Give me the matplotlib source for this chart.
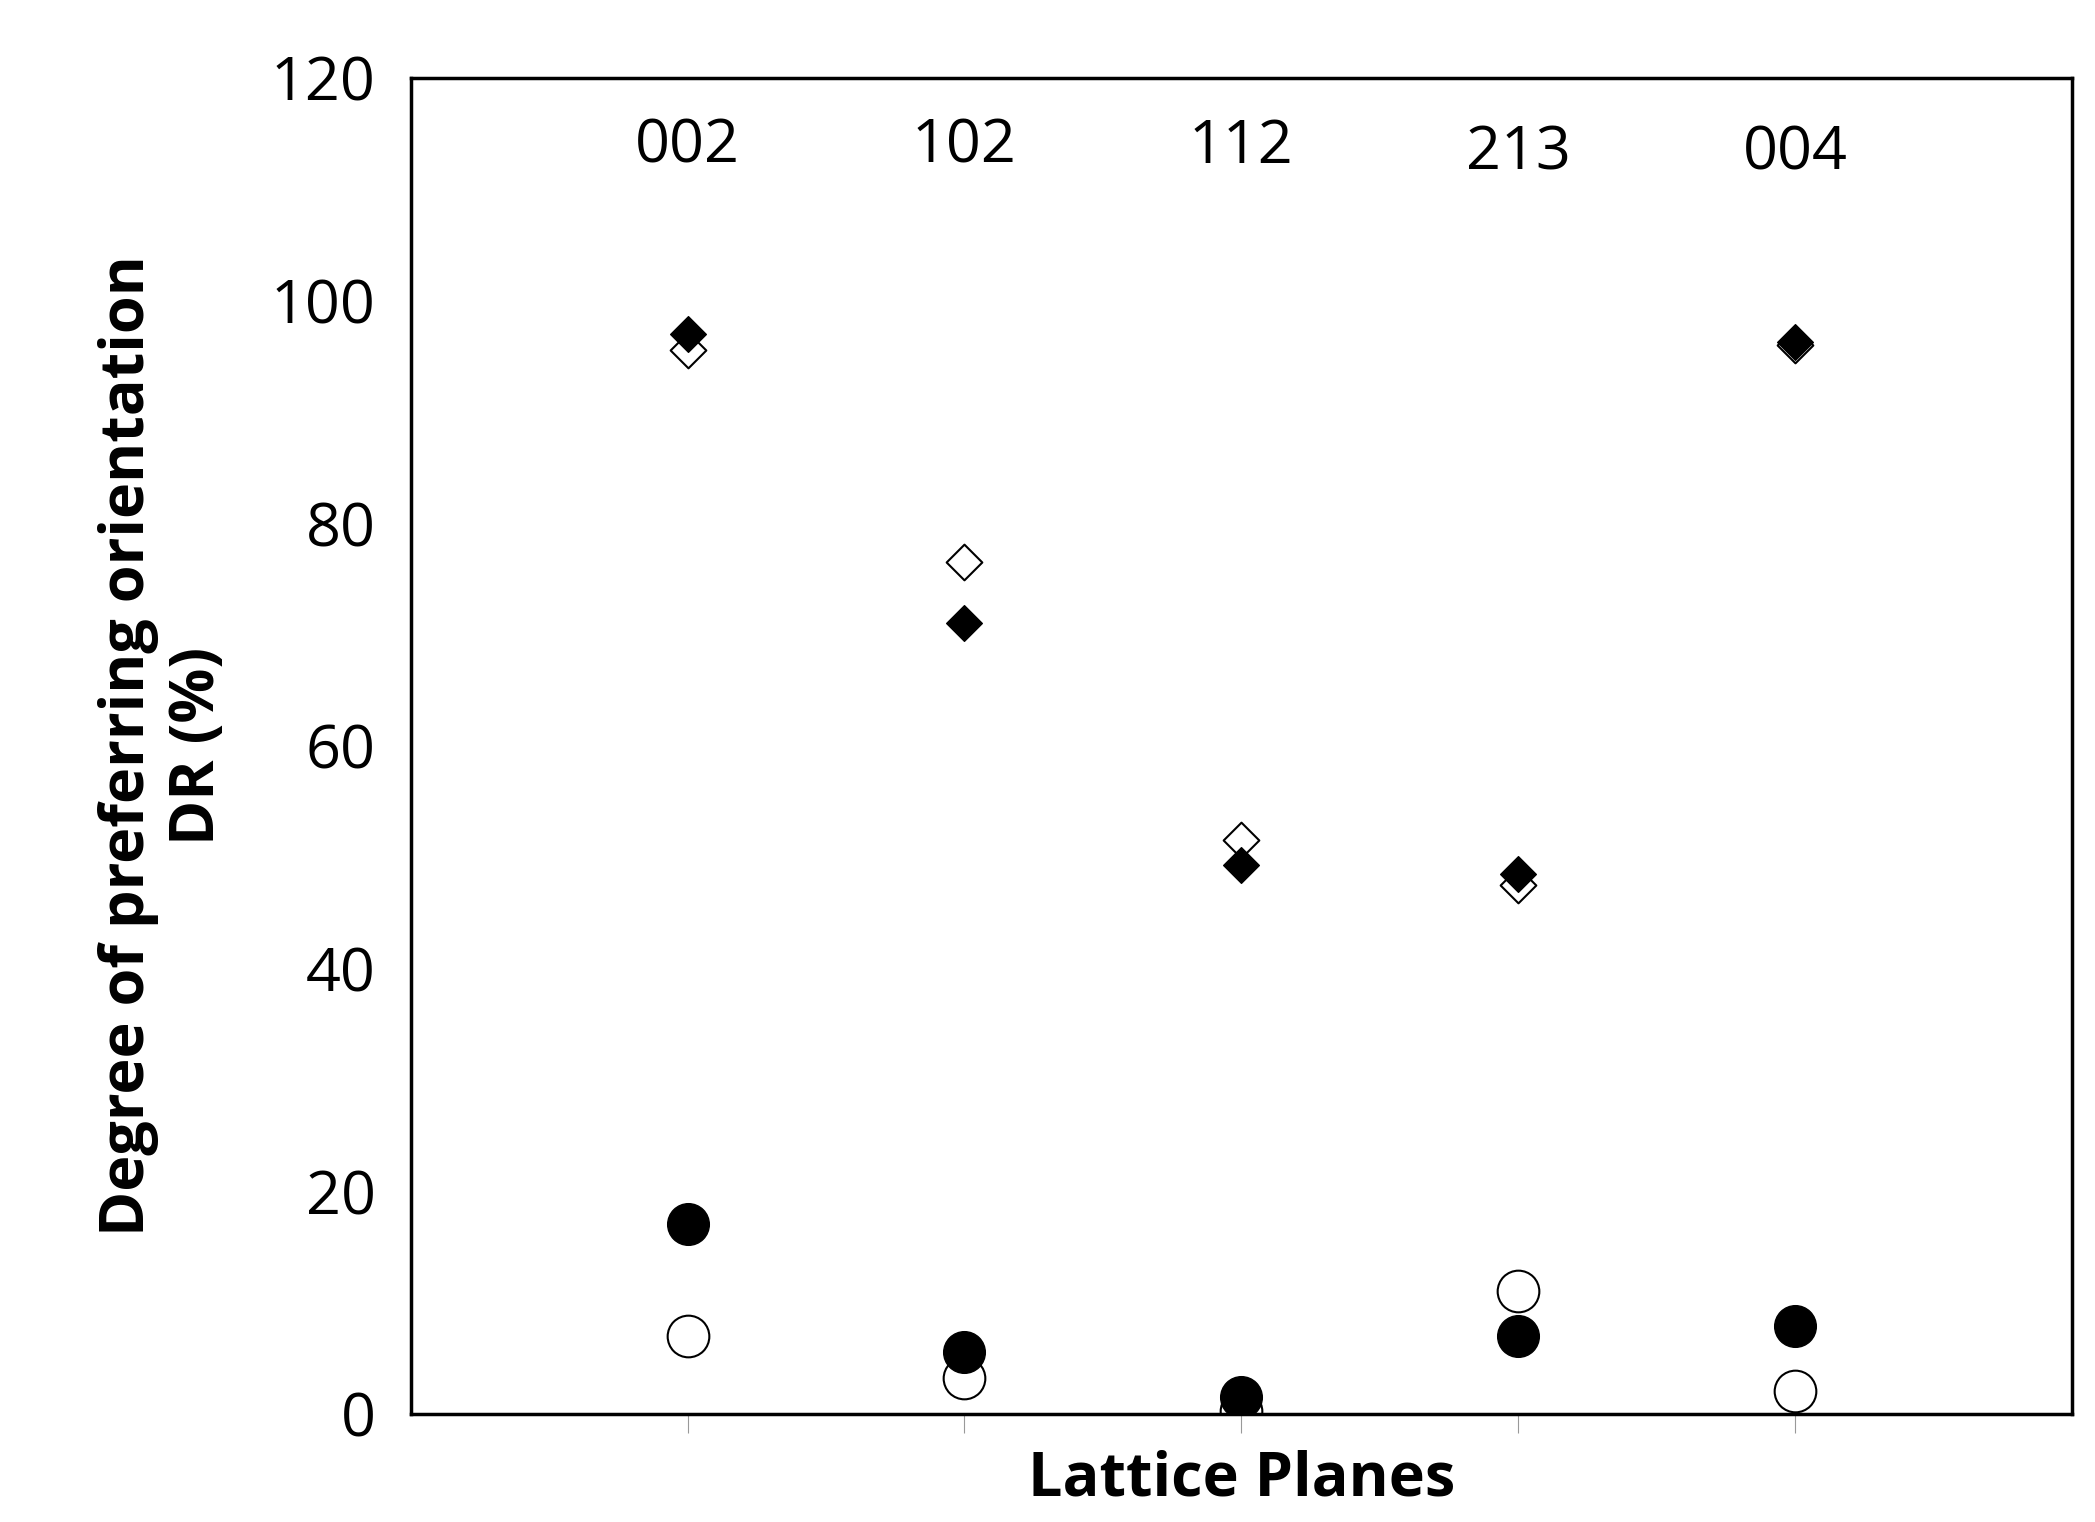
import numpy as np
import matplotlib.pyplot as plt

planes = ['002', '102', '112', '213', '004']
x = np.arange(1, 6)
dia_filled = [97, 71, 49.3, 48.5, 96.3]
dia_open = [95.5, 76.5, 51.5, 47.5, 96.0]
circ_filled = [17.1, 5.6, 1.5, 7.0, 7.9]
circ_open = [7.0, 3.2, 0.3, 11.0, 2.1]
label_y = [113.8, 113.8, 113.8, 113.2, 113.2]

plt.rcParams['font.family'] = ['Open Sans', 'DejaVu Sans']
fig = plt.figure(figsize=(20.95, 15.22), dpi=100)
ax = fig.add_axes([0.196, 0.071, 0.793, 0.878])

ax.scatter(x, dia_open, marker='D', s=330, facecolor='white', edgecolor='black', linewidth=1.5, zorder=2)
ax.scatter(x, dia_filled, marker='D', s=330, color='black', zorder=3)
ax.scatter(x, circ_open, marker='o', s=900, facecolor='white', edgecolor='black', linewidth=1.5, zorder=2)
ax.scatter(x, circ_filled, marker='o', s=900, color='black', zorder=3)

for xi, lab, yi in zip(x, planes, label_y):
    ax.text(xi, yi, lab, ha='center', va='center', fontsize=44)

ax.set_xlim(0, 6)
ax.set_ylim(0, 120)
ax.set_yticks(range(0, 121, 20))
ax.set_xticks(x)
ax.set_xticklabels([])
ax.tick_params(axis='y', length=0, labelsize=44, pad=25)
ax.tick_params(axis='x', direction='out', length=14, color='#999999')
for s in ax.spines.values():
    s.set_linewidth(2.5)
ax.set_xlabel('Lattice Planes', fontsize=44, fontweight='bold', labelpad=8)
ax.set_ylabel('Degree of preferring orientation\nDR (%)', fontsize=44, fontweight='bold', labelpad=30)

fig.savefig('out.png', dpi=100)
